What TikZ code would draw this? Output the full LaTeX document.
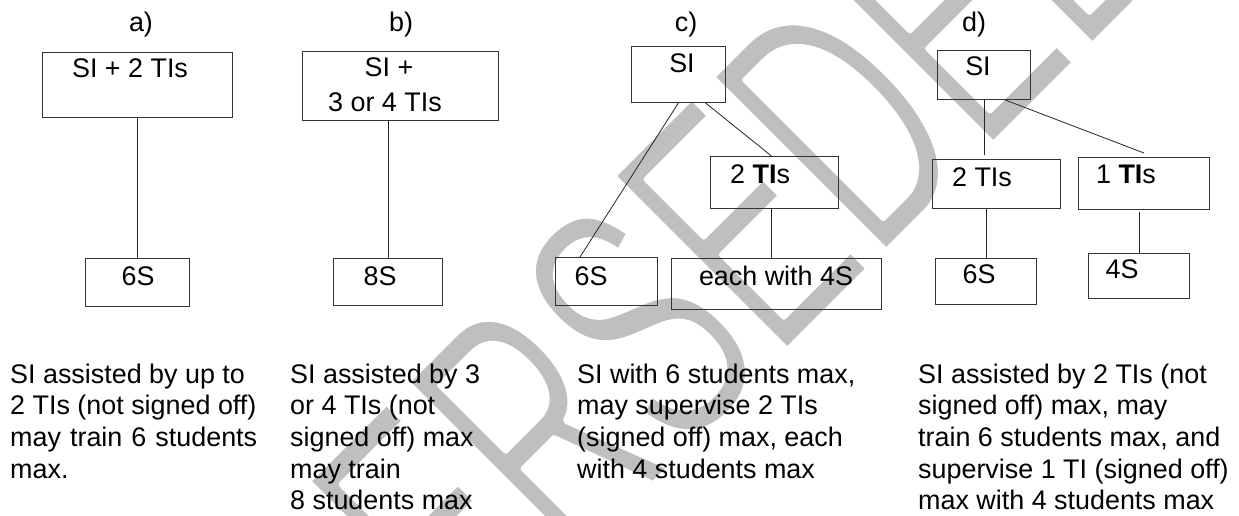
\documentclass[tikz,border=0pt]{standalone}
\usepackage{graphicx}
\usepackage{fontspec}
\setmainfont{Liberation Sans}
\usetikzlibrary{calc}

% thin the stamp letters: fill, then stroke the outline in white
\newcommand{\thinstamp}[1]{\special{pdf:literal direct 2 Tr 1 1 1 RG 7 w 1 j}#1\special{pdf:literal direct 0 Tr}}

\tikzset{
  box/.style={draw=black!80, line width=0.9pt, inner sep=0pt, anchor=north west},
  lbl/.style={inner sep=0pt, anchor=base, font=\fontsize{26.9}{31.7}\selectfont},
  desc/.style={inner sep=0pt, anchor=base west, font=\fontsize{26.9}{31.7}\selectfont},
  conn/.style={draw=black!85, line width=0.8pt},
}

\begin{document}
\begin{tikzpicture}[x=1pt,y=-1pt]
\useasboundingbox (0,0) rectangle (1239,516);

% stamp behind the diagram
\begin{scope}
\clip (0,0) rectangle (1239,516);
\node[rotate=45, anchor=base west, inner sep=0pt, text=black!25,
  font=\fontsize{360}{360}\selectfont] (stamp) at (165.8,972.6)
  {\scalebox{0.583}[1]{\thinstamp{SUPERSEDED}}};
\end{scope}

% column labels
\node[lbl] (la) at (141,32) {a)};
\node[lbl] (lb) at (401,32) {b)};
\node[lbl] (lc) at (686,32) {c)};
\node[lbl] (ld) at (974,32) {d)};

% a)
\node[box, minimum width=190pt, minimum height=65pt] (aTop) at (42,52) {};
\node[lbl] (aTopTxt) at (130,78) {SI + 2 TIs};
\node[box, minimum width=104pt, minimum height=48pt] (a6S) at (85,258) {};
\node[lbl] (a6STxt) at (138,285) {6S};
\draw[conn] (aTop) -- (a6S);

% b)
\node[box, minimum width=196pt, minimum height=69pt] (bTop) at (302,51) {};
\node[lbl] (bTopTxt) at (389,77) {SI +};
\node[lbl] (bTopTxt2) at (385,112) {3 or 4 TIs};
\node[box, minimum width=109pt, minimum height=47pt] (b8S) at (333,258) {};
\node[lbl] (b8STxt) at (380,285) {8S};
\draw[conn] (b8S.north) -- (b8S.north |- bTop.south);

% c)
\node[box, minimum width=94pt, minimum height=56pt] (cSI) at (631,46) {};
\node[lbl] (cSITxt) at (682,73) {SI};
\node[box, minimum width=128pt, minimum height=52pt] (c2TI) at (710,156) {};
\node[lbl, anchor=base west] (c2TITxt) at (730,183) {2 \textbf{TI}s};
\node[box, minimum width=102pt, minimum height=48pt] (c6S) at (555,257) {};
\node[lbl] (c6STxt) at (591,285) {6S};
\node[box, minimum width=210pt, minimum height=51pt] (cEach) at (671,258) {};
\node[lbl] (cEachTxt) at (776,285) {each with 4S};
\draw[conn] (cSI.south) -- ([xshift=25pt]c6S.north west);
\draw[conn] ([xshift=27pt]cSI.south) -- ([xshift=-3pt]c2TI.north);
\draw[conn] ([xshift=-3pt]c2TI.south) -- ([xshift=-3pt]c2TI.south |- cEach.north);

% d)
\node[box, minimum width=93pt, minimum height=49pt] (dSI) at (937,50) {};
\node[lbl] (dSITxt) at (978,76) {SI};
\node[box, minimum width=128pt, minimum height=49pt] (d2TI) at (932,159) {};
\node[lbl] (d2TITxt) at (982,186) {2 TIs};
\node[box, minimum width=131pt, minimum height=52pt] (d1TI) at (1078,157) {};
\node[lbl] (d1TITxt) at (1126,183) {1 \textbf{TI}s};
\node[box, minimum width=101pt, minimum height=46pt] (d6S) at (935,258) {};
\node[lbl] (d6STxt) at (979,283) {6S};
\node[box, minimum width=101pt, minimum height=45pt] (d4S) at (1088,253) {};
\node[lbl] (d4STxt) at (1122,278) {4S};
\draw[conn] (dSI.south) -- ([yshift=4pt]dSI.south |- d2TI.north);
\draw[conn] ([xshift=21pt]dSI.south) -- ([yshift=4pt]d1TI.north);
\draw[conn] (d6S.north |- d2TI.south) -- (d6S.north);
\draw[conn] ([yshift=-2pt]d4S.north |- d1TI.south) -- (d4S.north);

% notes under the columns
\node[desc] (aNote) at (10,383) {\parbox[t]{270pt}{SI assisted by up to\\
  2 TIs (not signed off)\\
  \makebox[247pt][s]{may train 6 students}\\
  max.}};
\node[desc] (bNote) at (290,383) {\parbox[t]{270pt}{SI assisted by 3\\
  or 4 TIs (not\\
  signed off) max\\
  may train\\
  8 students max}};
\node[desc] (cNote) at (577,383) {\parbox[t]{300pt}{SI with 6 students max,\\
  may supervise 2 TIs\\
  (signed off) max, each\\
  with 4 students max}};
\node[desc] (dNote) at (918,383) {\parbox[t]{320pt}{SI assisted by 2 TIs (not\\
  signed off) max, may\\
  train 6 students max, and\\
  supervise 1 TI (signed off)\\
  max with 4 students max}};
\end{tikzpicture}
\end{document}
